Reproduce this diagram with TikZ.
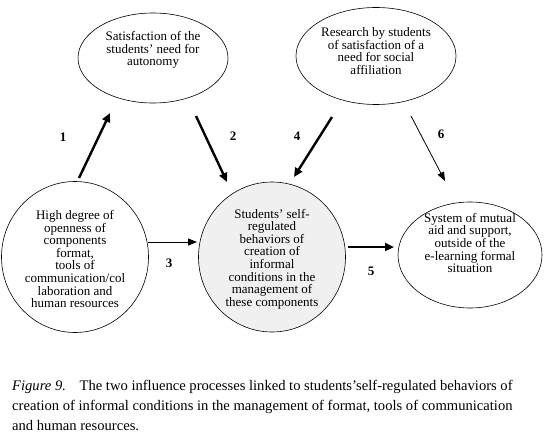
\documentclass[tikz,border=0pt]{standalone}
\usepackage{fontspec}
\setmainfont{Liberation Serif}
\usetikzlibrary{shapes.geometric, arrows.meta, positioning, calc}
\definecolor{bubblegray}{RGB}{240, 240, 240}

\begin{document}
\begin{tikzpicture}[
    x=1pt, y=-1pt,
    bubble/.style={draw=black, ellipse, inner sep=0pt, line width=0.6pt},
    bubbletext/.style={align=center, font=\fontsize{13}{12.6}\selectfont, inner sep=0pt},
    boldarrow/.style={-{Triangle[length=9pt, width=8pt]}, line width=2.4pt},
    thinarrow/.style={-{Triangle[length=9pt, width=7pt]}, line width=0.8pt},
    numlabel/.style={font=\fontsize{13}{15}\selectfont\bfseries}
]
\useasboundingbox (0,0) rectangle (559,441);

% Top ellipses
\node (auto) [bubble, minimum width=150pt, minimum height=90pt] at (153,58) {};
\node (autotxt) [bubbletext] at (153,50) {Satisfaction of the\\students' need for\\autonomy};

\node (social) [bubble, minimum width=160pt, minimum height=97pt] at (376,56) {};
\node (socialtxt) [bubbletext] at (376,51) {Research by students\\of satisfaction of a\\need for social\\affiliation};

% Bottom row
\node (open) [bubble, minimum width=147pt, minimum height=151pt] at (75,257) {};
\node (opentxt) [bubbletext] at (75,259) {High degree of\\openness of\\components\\format,\\tools of\\communication/col\\laboration and\\human resources};

\node (self) [bubble, fill=bubblegray, minimum width=147pt, minimum height=150pt] at (272,257) {};
\node (selftxt) [bubbletext] at (272,259) {Students' self-\\regulated\\behaviors of\\creation of\\informal\\conditions in the\\management of\\these components};

\node (mutual) [bubble, minimum width=144pt, minimum height=106pt] at (470,255) {};
\node (mutualtxt) [bubbletext] at (470,243) {System of mutual\\aid and support,\\outside of the\\e-learning formal\\situation};

% Arrow end points
\coordinate (a1s) at (79,178);  \coordinate (a1e) at (110,113);
\coordinate (a2s) at (196,116); \coordinate (a2e) at (227,182);
\coordinate (a4s) at (332,117); \coordinate (a4e) at (294,177);
\coordinate (a6s) at (411,116); \coordinate (a6e) at (445,181);
\coordinate (a3s) at (148,242); \coordinate (a3e) at (197,242);
\coordinate (a5s) at (348,247); \coordinate (a5e) at (394,247);

% Connectors
\draw [boldarrow] (a1s) -- (a1e);
\draw [boldarrow] (a2s) -- (a2e);
\draw [boldarrow] (a4s) -- (a4e);
\draw [thinarrow] (a6s) -- (a6e);
\draw [thinarrow] (a3s) -- (a3e);
\draw [boldarrow] (a5s) -- (a5e);

\node (n1) [numlabel] at (63,137) {1};
\node (n2) [numlabel] at (233,136) {2};
\node (n3) [numlabel] at (169,263) {3};
\node (n4) [numlabel] at (297,136) {4};
\node (n5) [numlabel] at (371,271) {5};
\node (n6) [numlabel] at (441,134) {6};

% Caption
\node (caption) [anchor=north west, align=left, inner sep=0pt, font=\fontsize{14.6}{20}\selectfont] at (12,380)
  {\textit{Figure 9.}\hspace{0.6em} The two influence processes linked to students'self-regulated behaviors of\\
   creation of informal conditions in the management of format, tools of communication\\
   and human resources.};
\end{tikzpicture}
\end{document}
